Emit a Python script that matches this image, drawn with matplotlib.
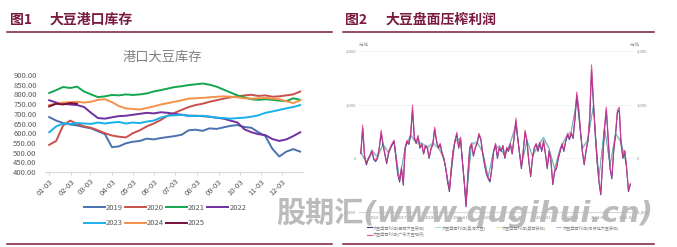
import datetime
import numpy as np
import matplotlib
matplotlib.use("Agg")
import matplotlib.pyplot as plt
from matplotlib.lines import Line2D
from matplotlib.ticker import FormatStrFormatter, FuncFormatter

plt.rcParams['font.family'] = ['Noto Sans CJK SC', 'DejaVu Sans']

# ---- left chart: port soybean stocks (every 10 days from 01-03) ----
days = np.arange(2, 365, 10)
years = ["2019", "2020", "2021", "2022", "2023", "2024", "2025"]
y2019 = [683, 665, 652, 645, 640, 632, 625, 610, 595, 528,
         532, 548, 556, 560, 572, 568, 575, 580, 585, 592,
         615, 618, 612, 625, 622, 630, 638, 642, 632, 628,
         605, 585, 520, 480, 505, 518, 505]
y2020 = [540, 560, 640, 665, 648, 635, 628, 615, 600, 588,
         582, 578, 600, 615, 635, 650, 668, 690, 705, 720,
         735, 745, 752, 762, 770, 778, 785, 790, 795, 798,
         792, 795, 788, 790, 795, 800, 815]
y2021 = [807, 822, 838, 833, 840, 815, 800, 786, 790, 797,
         795, 800, 797, 800, 805, 815, 822, 830, 838, 842,
         848, 852, 856, 850, 840, 825, 810, 795, 785, 775,
         772, 775, 772, 768, 765, 780, 772]
y2022 = [770, 758, 752, 748, 745, 735, 705, 678, 675, 682,
         688, 690, 695, 700, 705, 702, 708, 705, 700, 695,
         690, 690, 688, 685, 680, 675, 665, 655, 620, 605,
         595, 590, 570, 560, 568, 585, 605]
y2023 = [605, 635, 650, 648, 652, 650, 648, 655, 650, 655,
         658, 650, 655, 652, 660, 665, 680, 690, 692, 695,
         690, 688, 690, 685, 680, 678, 675, 678, 680, 685,
         692, 705, 712, 720, 728, 735, 745]
y2024 = [745, 752, 758, 760, 762, 758, 762, 772, 775, 760,
         740, 728, 725, 722, 730, 738, 748, 755, 762, 770,
         778, 780, 782, 785, 788, 790, 788, 785, 780, 778,
         780, 782, 778, 775, 765, 755, 770]
y2025 = [738, 752, 748, 755, 752]
stock_series = [y2019, y2020, y2021, y2022, y2023, y2024, y2025]
stock_colors = ['#4a72b0', '#c8504b', '#12a650', '#7030a0', '#18b2ea', '#f39249', '#7b0c3c']
month_labels = [f"{m:02d}-03" for m in range(1, 13)]

# ---- right chart: crush margin (yuan/ton) ----
crush_labels = ["大豆盘面利润(巴西大豆装船)", "大豆盘面利润(美湾大豆)", "大豆盘面利润(美西装船)",
                "大豆盘面利润(阿根廷大豆装船)", "大豆盘面利润(广东大豆现货)"]
m_navy = [90, 560, 40, -120, -20, 40, 130, -20, -60, 0,
          190, 470, 250, 70, -100, 90, 190, 260, 310, 0,
          -300, -440, -190, -500, 180, 310, 260, 430, 900, 370,
          280, 400, 190, 260, 80, 230, 190, 0, 170, 260,
          540, 310, 190, 260, 90, -20, -190, -440, -620, -190,
          130, 310, 450, 190, 370, -60, -440, -900, -300, 190,
          260, 40, 190, 280, 440, 350, 90, -120, -290, -380,
          -440, -190, 130, 260, 0, 190, 130, 230, 0, 190,
          130, 260, 80, 370, 700, 370, 80, -190, 130, 490,
          310, -60, -340, 0, 190, 260, 130, 280, 130, 310,
          80, -190, 130, -60, -490, -250, -190, 0, 130, 260,
          130, 310, 440, 350, 460, 370, 720, 1180, 900, 490,
          130, -120, 130, 310, 720, 1650, 1020, 440, -60, -440,
          -680, -60, 540, 900, 370, -190, -380, 130, 440, 850,
          900, 260, 0, 130, -190, -620, -490]
m_gd = [110, 617, 56, -94, 0, 56, 150, 0, -37, 19,
        206, 524, 280, 94, -75, 112, 206, 280, 337, 19,
        -280, -411, -168, -467, 206, 337, 280, 467, 990, 393,
        300, 430, 206, 280, 94, 243, 206, 19, 187, 280,
        580, 337, 206, 280, 112, 0, -168, -411, -598, -168,
        150, 337, 486, 206, 393, -37, -411, -880, -280, 206,
        280, 56, 206, 300, 467, 374, 112, -94, -262, -355,
        -411, -168, 150, 280, 19, 206, 150, 243, 19, 206,
        150, 280, 94, 393, 748, 393, 94, -168, 150, 524,
        337, -37, -318, 19, 206, 280, 150, 300, 150, 337,
        94, -168, 150, -37, -467, -224, -168, 19, 150, 280,
        150, 337, 467, 374, 486, 393, 767, 1234, 954, 524,
        150, -94, 150, 337, 767, 1740, 1085, 467, -37, -411,
        -655, -37, 580, 954, 393, -168, -355, 150, 467, 898,
        954, 280, 19, 150, -168, -598, -467]
# coarser series, one value every third period
m_teal = [130, -60, 160, 40, 270, 130, 340, -380, 220, 450,
          310, 290, 220, 290, 230, 20, -560, 330, 380, -800,
          290, 310, 140, -330, 170, 240, 60, 300, 640, -120,
          350, 60, 250, 400, 200, -180, 200, 400, 520, 1100,
          200, 360, 1000, -350, 600, -120, 480, 320, -120]
m_yellow = [90, -100, 120, 0, 240, 90, 300, -420, 180, 410,
            270, 250, 180, 250, 180, -20, -600, 300, 350, -840,
            250, 270, 100, -370, 140, 210, 20, 270, 600, -160,
            310, 20, 210, 360, 160, -220, 160, 360, 480, 1060,
            160, 320, 960, -390, 560, -160, 440, 280, -160]
m_blue = [100, -80, 140, 20, 260, 100, 320, -400, 200, 430,
          290, 270, 200, 270, 200, 0, -580, 320, 370, -820,
          270, 290, 120, -350, 160, 230, 40, 290, 620, -140,
          330, 40, 230, 380, 180, -200, 180, 380, 500, 1080,
          180, 340, 980, -370, 580, -140, 460, 300, -140]
crush_year_labels = [f"{y}-01" for y in range(2016, 2026)]

fig = plt.figure(figsize=(6.77, 2.47), dpi=100)
W, H = 677, 247
maroon = '#7a1a3f'

def fx(px):
    return px / W

def fy(py):
    return 1 - py / H

# headers and rules
fig.text(fx(10), fy(20), "图1", fontsize=10, weight='heavy', color=maroon, va='center')
fig.text(fx(49), fy(20), "大豆港口库存", fontsize=10, weight='heavy', color=maroon, va='center')
fig.text(fx(345), fy(20), "图2", fontsize=10, weight='heavy', color=maroon, va='center')
fig.text(fx(385), fy(20), "大豆盘面压榨利润", fontsize=10, weight='heavy', color=maroon, va='center')
for x0, x1 in [(7, 332), (343, 654)]:
    for yy in (32, 244):
        fig.add_artist(Line2D([fx(x0), fx(x1)], [fy(yy), fy(yy)], color=maroon, lw=1.1))

# left chart
ax1 = fig.add_axes([fx(45), fy(172), fx(303 - 45), 97 / H])
for name, vals, c in zip(years, stock_series, stock_colors):
    ax1.plot(days[:len(vals)], vals, color=c, lw=1.4, label=name)
ax1.set_ylim(400, 900)
ax1.set_xlim(-4, 366)
ax1.set_yticks(np.arange(400, 901, 50))
ax1.yaxis.set_major_formatter(FormatStrFormatter('%.2f'))
tick_days = [(datetime.date(2021, m, 3) - datetime.date(2021, 1, 1)).days for m in range(1, 13)]
ax1.set_xticks(tick_days)
ax1.set_xticklabels(month_labels, rotation=45, ha='right', rotation_mode='anchor')
for s in ['top', 'right', 'left']:
    ax1.spines[s].set_visible(False)
ax1.spines['bottom'].set_color('#d9d9d9')
ax1.tick_params(axis='y', length=0, labelsize=5.5, labelcolor='#595959', pad=6)
ax1.tick_params(axis='x', length=2, color='#d9d9d9', labelsize=5.5, labelcolor='#595959', pad=2)
fig.text(fx(162), fy(57), "港口大豆库存", fontsize=9.5, color='#808080', ha='center', va='center')

handles, labels = ax1.get_legend_handles_labels()
order = [0, 4, 1, 5, 2, 6, 3]
fig.legend([handles[i] for i in order], [labels[i] for i in order], ncol=4, loc='center',
           bbox_to_anchor=(fx(165), fy(215.5)), frameon=False, fontsize=5.5,
           handlelength=2.75, handletextpad=0.15, columnspacing=0.25, labelspacing=1.0,
           labelcolor='#595959')

# right chart
ax2 = fig.add_axes([fx(359), fy(212), fx(634 - 359), 161 / H])
n = len(m_gd)
x_full = np.arange(n)
x_coarse = np.arange(0, n, 3)[:len(m_teal)]
l_yellow, = ax2.plot(x_coarse, m_yellow, color='#f2c14e', lw=0.5, alpha=0.7)
l_blue, = ax2.plot(x_coarse, m_blue, color='#3a7fd0', lw=0.5, alpha=0.7)
l_teal, = ax2.plot(x_coarse, m_teal, color='#3fb6b0', lw=0.5, alpha=0.7)
l_navy, = ax2.plot(x_full, m_navy, color='#343c8c', lw=0.8)
l_gd, = ax2.plot(x_full, m_gd, color='#e2388f', lw=0.8, alpha=0.85)
ax2.set_ylim(-1000, 2000)
ax2.set_xlim(-1, n + 1)
ax2.set_yticks([-1000, 0, 1000, 2000])
ax2.yaxis.set_major_formatter(FuncFormatter(lambda v, p: f"{int(v):,}"))
ax2.grid(axis='y', color='#f0f0f0', lw=0.5)
ax2.set_axisbelow(True)
ax2.set_xticks(np.arange(9, n, 15))
ax2.set_xticklabels(crush_year_labels)
for s in ['top', 'right', 'left']:
    ax2.spines[s].set_visible(False)
ax2.spines['bottom'].set_color('#d9d9d9')
ax2.tick_params(axis='both', length=0, labelsize=3, labelcolor='#8c8c8c', pad=2)
ax2.tick_params(axis='x', pad=3)
ax2.tick_params(axis='y', labelright=True)
fig.text(fx(359), fy(44), "元/吨", fontsize=3, color='#8c8c8c', va='center')
fig.text(fx(630), fy(44), "元/吨", fontsize=3, color='#8c8c8c', va='center')
fig.legend([l_navy, l_gd, l_teal, l_yellow, l_blue],
           [crush_labels[0], crush_labels[4], crush_labels[1], crush_labels[2], crush_labels[3]],
           ncol=4, loc='center', bbox_to_anchor=(fx(493), fy(231)), frameon=False,
           fontsize=3, handlelength=1.2, handletextpad=0.3, columnspacing=2.4,
           labelspacing=0.5, labelcolor='#8c8c8c')

# watermark
fig.text(fx(276), fy(213), "股期汇(www.qugihui.cn)", fontsize=21, weight='bold', style='oblique',
         family=['DejaVu Sans', 'Noto Sans CJK SC'], color='#b0b0b0', alpha=0.85, va='center')

fig.savefig("out.png", dpi=100)
